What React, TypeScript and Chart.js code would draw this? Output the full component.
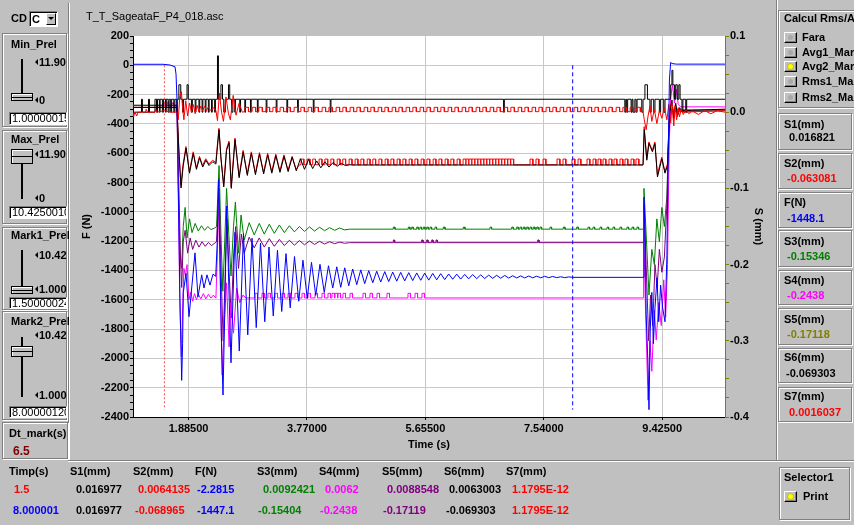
import React, { useEffect, useRef } from 'react';
import { Chart, registerables } from 'chart.js';

Chart.register(...registerables);

type Pt = [number, number];

const FONT = '"Liberation Sans", Arial, sans-serif';

// ---- axis ranges and ticks ----
const timeMin = 1.0000001;
const timeMax = 10.425001;
const forceMin = -2400;
const forceMax = 200;
const dispMin = -0.4;
const dispMax = 0.1;

const timeTicks = [1.885, 3.77, 5.655, 7.54, 9.425];
const timeTickLabels = ['1.88500', '3.77000', '5.65500', '7.54000', '9.42500'];
const forceTicks = [200, 0, -200, -400, -600, -800, -1000, -1200, -1400, -1600, -1800, -2000, -2200, -2400];
const dispTicks = [0.1, 0, -0.1, -0.2, -0.3, -0.4];
const dispTickLabels = ['0.1', '0.0', '-0.1', '-0.2', '-0.3', '-0.4'];

// ---- cursor marks (s) and their vertical extent (N) ----
const markTimes = [1.5, 8.000001];
const markSpan = [0, -2350];

// ---- F (N), force channel ----
const forceTrace: Pt[] = [
  [1.000, 7], [1.478, 7], [1.589, 2], [1.669, -10], [1.685, -60], [1.701, -240], [1.724, -920], [1.748, -1600],
  [1.775, -2150], [1.790, -1900], [1.801, -1550], [1.844, -1420], [1.892, -1715], [1.939, -1500], [1.987, -1280],
  [2.035, -1580], [2.094, -1430], [2.130, -1520], [2.178, -1430], [2.226, -1500], [2.274, -1425], [2.317, -1440],
  [2.342, -1200], [2.361, -780], [2.385, -1300], [2.409, -1900], [2.433, -2250], [2.460, -1700], [2.492, -960],
  [2.525, -1500], [2.560, -2030], [2.624, -1140],
  [2.692, -1950], [2.759, -1150], [2.827, -1840], [2.895, -1180], [2.962, -1790], [3.030, -1213], [3.098, -1750],
  [3.165, -1240], [3.233, -1710], [3.300, -1262], [3.368, -1680], [3.436, -1285], [3.503, -1655], [3.571, -1305],
  [3.639, -1610], [3.706, -1330], [3.774, -1590], [3.842, -1345], [3.909, -1570], [3.977, -1358], [4.045, -1550],
  [4.112, -1368], [4.180, -1520],
  [4.244, -1375], [4.307, -1515], [4.371, -1382], [4.435, -1505], [4.498, -1390], [4.562, -1497], [4.626, -1396],
  [4.689, -1490], [4.753, -1401], [4.817, -1484], [4.880, -1405], [4.944, -1479], [5.008, -1408], [5.071, -1476],
  [5.135, -1411], [5.199, -1473], [5.262, -1413], [5.326, -1471], [5.390, -1415], [5.453, -1469], [5.517, -1417],
  [5.581, -1467], [5.644, -1418], [5.708, -1466], [5.772, -1420], [5.835, -1464], [5.899, -1422], [5.963, -1462],
  [6.026, -1424], [6.090, -1460], [6.154, -1425], [6.217, -1459], [6.281, -1427], [6.345, -1457], [6.408, -1428],
  [6.472, -1456], [6.536, -1430], [6.599, -1455], [6.663, -1432], [6.727, -1454], [6.790, -1433], [6.854, -1453],
  [6.918, -1434], [6.981, -1452], [7.045, -1436], [7.109, -1451], [7.172, -1437], [7.236, -1451], [7.300, -1438],
  [7.363, -1450], [7.427, -1439], [7.491, -1450], [7.554, -1440], [7.618, -1449], [7.682, -1441], [7.745, -1449],
  [7.809, -1443], [7.873, -1449], [7.936, -1444], [8.000, -1447],
  [9.120, -1447], [9.135, -900], [9.150, -1100], [9.170, -1700], [9.195, -2000], [9.215, -2350], [9.235, -1800],
  [9.260, -1550], [9.285, -1900], [9.311, -1650], [9.343, -1450], [9.370, -1750], [9.400, -1500], [9.430, -1650],
  [9.470, -1750], [9.500, -1300], [9.518, -700], [9.540, -100], [9.560, 20], [9.581, 12], [9.650, 8], [10.425, 8],
];

// ---- S1 (mm), two-level digital trace: value holds from each time onward ----
const s1Steps: Pt[] = [
  [1.000, 0.0], [1.135, 0.017], [1.150, 0.0], [1.247, 0.017], [1.262, 0.0], [1.350, 0.017], [1.375, 0.0],
  [1.390, 0.017], [1.420, 0.0], [1.432, 0.017], [1.468, 0.0], [1.485, 0.017], [1.518, 0.0], [1.530, 0.017],
  [1.560, 0.0], [1.575, 0.017], [1.600, 0.0], [1.615, 0.017], [1.650, 0.0], [1.665, 0.017], [1.690, 0.0],
  [1.705, 0.017], [1.730, 0.036], [1.760, 0.017], [1.790, 0.0], [1.805, 0.017], [1.860, 0.036], [1.880, 0.017],
  [1.930, 0.0], [1.945, 0.017], [1.990, 0.0], [2.002, 0.017], [2.050, 0.0], [2.062, 0.017], [2.100, 0.0],
  [2.112, 0.017], [2.150, 0.0], [2.162, 0.017], [2.200, 0.0], [2.212, 0.017], [2.250, 0.0], [2.262, 0.017],
  [2.300, 0.0], [2.312, 0.017], [2.345, 0.074], [2.360, 0.017], [2.400, 0.036], [2.425, 0.017], [2.445, 0.0],
  [2.470, 0.017], [2.520, 0.036], [2.540, 0.017], [2.570, 0.0], [2.590, 0.017], [2.620, 0.0], [2.632, 0.017],
  [2.700, 0.0], [2.712, 0.017], [2.780, 0.0], [2.792, 0.017], [2.870, 0.0], [2.882, 0.017], [2.980, 0.0],
  [2.992, 0.017], [3.120, 0.0], [3.132, 0.017], [3.280, 0.0], [3.292, 0.017], [3.450, 0.0], [3.462, 0.017],
  [3.620, 0.0], [3.632, 0.017], [3.870, 0.0], [3.882, 0.017], [4.140, 0.0], [4.152, 0.017], [6.900, 0.0],
  [6.912, 0.017], [8.830, 0.0], [8.845, 0.017], [8.860, 0.0], [8.875, 0.017], [8.930, 0.0], [8.945, 0.017],
  [8.960, 0.0], [8.990, 0.017], [9.010, 0.0], [9.025, 0.017], [9.100, 0.0], [9.120, 0.017], [9.150, 0.036],
  [9.190, 0.017], [9.230, 0.0], [9.250, 0.017], [9.290, 0.0], [9.310, 0.017], [9.380, 0.0], [9.400, 0.017],
  [9.450, 0.0], [9.470, 0.017], [9.560, 0.036], [9.580, 0.055], [9.595, 0.036], [9.620, 0.017], [9.640, 0.036],
  [9.665, 0.017], [9.690, 0.036], [9.710, 0.017], [9.740, 0.0], [9.755, 0.017], [9.800, 0.0], [9.815, 0.017],
  [10.425, 0.017],
];

// ---- S2 (mm) ----
const s2Trace: Pt[] = [
  [1.000, 0.0064], [1.700, 0.0064], [1.728, -0.045], [1.762, -0.096], [1.798, -0.068], [1.843, -0.045],
  [1.898, -0.078], [1.958, -0.052], [2.008, -0.073], [2.058, -0.058], [2.108, -0.070], [2.158, -0.061],
  [2.208, -0.068], [2.268, -0.063], [2.318, -0.066], [2.343, -0.043], [2.368, -0.021], [2.398, -0.058],
  [2.443, -0.096], [2.488, -0.048], [2.528, -0.038], [2.563, -0.098], [2.623, -0.034], [2.688, -0.084],
  [2.753, -0.050], [2.818, -0.081], [2.883, -0.052], [2.948, -0.080], [3.013, -0.053], [3.078, -0.079],
  [3.143, -0.054], [3.208, -0.078], [3.273, -0.055], [3.338, -0.077], [3.403, -0.056], [3.468, -0.076],
  [3.533, -0.058], [3.598, -0.075], [3.650, -0.0690], [9.120, -0.0690], [9.138, -0.019], [9.178, -0.061],
  [9.213, -0.039], [9.268, -0.050], [9.308, -0.039], [9.348, -0.082], [9.418, -0.059], [9.468, -0.078],
  [9.508, -0.068], [9.543, 0.002], [9.575, 0.014], [9.605, -0.010], [9.635, 0.010], [9.665, -0.006],
  [9.700, 0.004], [9.740, 0.000], [10.425, 0.002],
];
const s2PulseStarts = [
  3.675, 3.772, 3.861, 3.963, 4.055, 4.150, 4.251, 4.340, 4.441, 4.536, 4.628, 4.729, 4.818, 4.915, 5.014,
  5.106, 5.205, 5.297, 5.396, 5.488, 5.587, 5.679, 5.778, 5.870, 5.969, 6.061, 6.160, 6.255, 6.300, 6.348,
  6.395, 6.444, 6.490, 6.540, 6.585, 6.634, 6.680, 6.730, 6.776, 6.825, 6.870, 6.920, 6.966, 7.015, 7.321,
  7.416, 7.528, 7.751, 7.846, 7.989, 8.085, 8.228, 8.324, 8.403, 8.483, 8.578, 8.658, 8.753, 8.833, 8.929, 9.008,
];
const s2Levels = [-0.0690, -0.0615];

// ---- S3 (mm) ----
const s3Trace: Pt[] = [
  [1.000, 0.0092], [1.700, 0.0092], [1.722, -0.100], [1.748, -0.180], [1.775, -0.205], [1.800, -0.150],
  [1.830, -0.125], [1.860, -0.165], [1.900, -0.140], [1.940, -0.158], [1.990, -0.146], [2.040, -0.156],
  [2.090, -0.149], [2.140, -0.155], [2.190, -0.150], [2.240, -0.154], [2.300, -0.152], [2.330, -0.150],
  [2.350, -0.110], [2.370, -0.070], [2.400, -0.160], [2.430, -0.235], [2.460, -0.170], [2.490, -0.100],
  [2.525, -0.160], [2.560, -0.215], [2.600, -0.150], [2.630, -0.118], [2.680, -0.185], [2.720, -0.135],
  [2.770, -0.168], [2.850, -0.145], [2.930, -0.161], [3.010, -0.146], [3.090, -0.160], [3.170, -0.147],
  [3.250, -0.159], [3.330, -0.148], [3.410, -0.158], [3.490, -0.149], [3.570, -0.157], [3.650, -0.150],
  [3.730, -0.1565], [3.810, -0.1505], [3.890, -0.156], [3.970, -0.151], [4.050, -0.1555], [4.130, -0.1515],
  [4.210, -0.155], [4.290, -0.152], [4.370, -0.1545], [4.450, -0.1535], [9.120, -0.1535], [9.135, -0.100],
  [9.170, -0.160], [9.215, -0.240], [9.260, -0.180], [9.300, -0.200], [9.340, -0.140], [9.380, -0.170],
  [9.420, -0.125], [9.460, -0.150], [9.500, -0.110], [9.530, -0.020], [9.555, 0.004], [9.600, 0.001],
  [10.425, 0.002],
];
const s3BlipStarts = [
  5.145, 5.383, 5.437, 5.517, 5.569, 5.622, 5.676, 5.729, 5.808, 5.941, 6.259, 6.684, 7.029, 7.109, 7.161,
  7.214, 7.268, 7.321, 7.374, 7.427, 7.480, 7.639, 7.851, 8.064, 8.244, 8.324, 8.435, 8.547, 8.642, 8.753,
  8.865, 8.945, 9.024,
];
const s3Levels = [-0.1535, -0.1508];

// ---- S4 (mm) ----
const s4Trace: Pt[] = [
  [1.000, 0.0062], [1.480, 0.0062], [1.500, 0.013], [1.520, 0.0062], [1.560, 0.014], [1.590, 0.0062],
  [1.640, 0.013], [1.670, 0.0062], [1.700, 0.0062], [1.720, -0.100], [1.745, -0.250], [1.770, -0.321],
  [1.790, -0.260], [1.810, -0.205], [1.835, -0.215], [1.860, -0.200], [1.890, -0.246], [1.920, -0.236],
  [1.950, -0.248], [1.980, -0.238], [2.010, -0.246], [2.040, -0.239], [2.080, -0.245], [2.120, -0.238],
  [2.160, -0.245], [2.200, -0.239], [2.240, -0.244], [2.280, -0.240], [2.320, -0.244], [2.345, -0.180],
  [2.365, -0.120], [2.395, -0.250], [2.420, -0.345], [2.450, -0.280], [2.490, -0.224], [2.530, -0.308],
  [2.560, -0.250], [2.600, -0.290], [2.650, -0.231], [2.700, -0.250], [2.750, -0.240], [2.800, -0.2438],
  [9.120, -0.2438], [9.130, -0.150], [9.160, -0.260], [9.200, -0.378], [9.230, -0.300], [9.260, -0.340],
  [9.300, -0.260], [9.330, -0.299], [9.370, -0.250], [9.410, -0.280], [9.450, -0.220], [9.480, -0.269],
  [9.510, -0.200], [9.535, -0.050], [9.560, 0.020], [9.590, 0.036], [9.620, 0.012], [9.650, 0.030],
  [9.680, 0.010], [9.720, 0.007], [10.425, 0.007],
];
const s4PulseStarts = [
  2.942, 3.054, 3.149, 3.261, 3.372, 3.468, 3.579, 3.691, 3.786, 3.898, 4.009, 4.105, 4.168, 4.216, 4.264,
  4.343, 4.455, 4.662, 4.773, 4.885, 5.044, 5.378, 5.490, 5.601,
];
const s4Levels = [-0.2438, -0.2377];

// ---- S5 (mm) ----
const s5Trace: Pt[] = [
  [1.000, 0.0089], [1.700, 0.0089], [1.725, -0.080], [1.755, -0.190], [1.775, -0.230], [1.800, -0.170],
  [1.830, -0.155], [1.870, -0.185], [1.910, -0.165], [1.950, -0.180], [2.000, -0.168], [2.050, -0.177],
  [2.100, -0.170], [2.150, -0.176], [2.200, -0.171], [2.250, -0.175], [2.300, -0.172], [2.330, -0.170],
  [2.350, -0.130], [2.370, -0.100], [2.400, -0.200], [2.435, -0.300], [2.465, -0.220], [2.495, -0.140],
  [2.530, -0.210], [2.565, -0.270], [2.600, -0.190], [2.635, -0.150], [2.680, -0.205], [2.725, -0.160],
  [2.770, -0.185], [2.850, -0.164], [2.930, -0.178], [3.010, -0.165], [3.090, -0.177], [3.170, -0.166],
  [3.250, -0.176], [3.330, -0.167], [3.410, -0.175], [3.490, -0.168], [3.570, -0.1745], [3.650, -0.1685],
  [3.730, -0.174], [3.810, -0.169], [3.890, -0.1735], [3.970, -0.1695], [4.050, -0.173], [4.130, -0.170],
  [4.210, -0.1725], [4.290, -0.1705], [4.370, -0.172], [4.450, -0.1712], [9.120, -0.1712], [9.135, -0.120],
  [9.170, -0.200], [9.210, -0.300], [9.240, -0.240], [9.275, -0.280], [9.310, -0.200], [9.345, -0.230],
  [9.380, -0.180], [9.420, -0.210], [9.460, -0.190], [9.500, -0.120], [9.530, -0.030], [9.560, 0.003],
  [10.425, 0.003],
];
const s5BlipStarts = [5.145, 5.596, 5.676, 5.756, 5.824, 7.443];
const s5Levels = [-0.1712, -0.1677];

// ---- S6 (mm) ----
const s6Trace: Pt[] = [
  [1.000, 0.0063], [1.700, 0.0063], [1.730, -0.050], [1.765, -0.0995], [1.800, -0.070], [1.845, -0.047],
  [1.900, -0.080], [1.960, -0.054], [2.010, -0.075], [2.060, -0.060], [2.110, -0.072], [2.160, -0.063],
  [2.210, -0.070], [2.270, -0.065], [2.320, -0.068], [2.345, -0.045], [2.370, -0.023], [2.400, -0.060],
  [2.445, -0.098], [2.490, -0.050], [2.530, -0.040], [2.565, -0.100], [2.625, -0.036], [2.690, -0.086],
  [2.755, -0.052], [2.820, -0.083], [2.885, -0.054], [2.950, -0.082], [3.015, -0.055], [3.080, -0.081],
  [3.145, -0.056], [3.210, -0.080], [3.275, -0.057], [3.340, -0.079], [3.405, -0.058], [3.470, -0.078],
  [3.535, -0.059], [3.600, -0.077], [3.665, -0.061], [3.730, -0.075], [3.795, -0.062], [3.860, -0.074],
  [3.925, -0.064], [3.990, -0.073], [4.055, -0.065], [4.120, -0.072], [4.185, -0.066], [4.250, -0.071],
  [4.315, -0.067], [4.380, -0.070], [4.445, -0.069], [4.500, -0.0693], [9.120, -0.0693], [9.140, -0.023],
  [9.180, -0.063], [9.215, -0.041], [9.270, -0.052], [9.310, -0.041], [9.350, -0.085], [9.420, -0.061],
  [9.470, -0.080], [9.510, -0.070], [9.545, -0.001], [9.580, 0.016], [9.610, -0.008], [9.640, 0.012],
  [9.670, -0.004], [9.700, 0.006], [9.740, 0.002], [10.425, 0.004],
];

// ---- S7 (mm) ----
const s7Trace: Pt[] = [
  [1.000, 0.000], [1.010, -0.006], [1.030, 0.000], [1.060, -0.005], [1.075, 0.000], [1.200, 0.000],
  [1.210, 0.004], [1.230, 0.000], [1.350, 0.000], [1.360, 0.004], [1.380, 0.000], [1.500, 0.002],
  [1.600, 0.000], [1.700, 0.000], [1.720, -0.010], [1.745, 0.020], [1.770, 0.027], [1.790, 0.005],
  [1.810, -0.010], [1.840, 0.015], [1.870, -0.005], [1.900, 0.012], [1.930, 0.000], [1.960, 0.010],
  [1.990, -0.002], [2.020, 0.009], [2.050, 0.001], [2.080, 0.008], [2.110, 0.002], [2.140, 0.008],
  [2.170, 0.002], [2.200, 0.007], [2.240, 0.002], [2.280, 0.006], [2.320, 0.002], [2.345, -0.011],
  [2.375, 0.025], [2.410, 0.000], [2.440, -0.012], [2.480, 0.020], [2.520, -0.002], [2.550, -0.010],
  [2.595, 0.022], [2.640, -0.004], [2.690, 0.012], [2.740, 0.000], [2.775, 0.0007], [9.120, 0.0007],
  [9.140, -0.010], [9.170, -0.023], [9.200, -0.005], [9.230, 0.008], [9.260, -0.012], [9.300, 0.004],
  [9.340, -0.015], [9.380, 0.002], [9.420, -0.008], [9.460, 0.006], [9.500, -0.010], [9.530, 0.010],
  [9.560, -0.014], [9.585, 0.012], [9.610, -0.018], [9.630, 0.008], [9.655, -0.010], [9.680, 0.006],
  [9.700, -0.006], [9.730, 0.004], [9.760, -0.003], [9.800, 0.003], [9.850, -0.002], [9.900, 0.002],
  [10.000, -0.003], [10.100, 0.002], [10.200, -0.002], [10.300, 0.002], [10.425, 0.000],
];
const s7PulseStarts = [
  2.783, 2.897, 3.004, 3.120, 3.227, 3.342, 3.450, 3.565, 3.673, 3.788, 3.896, 4.011, 4.119, 4.234, 4.341,
  4.457, 4.564, 4.680, 4.787, 4.903, 5.010, 5.126, 5.233, 5.348, 5.456, 5.571, 5.679, 5.794, 5.902, 6.017,
  6.125, 6.240, 6.347, 6.463, 6.570, 6.686, 6.793, 6.909, 7.016, 7.132, 7.239, 7.354, 7.462, 7.577, 7.685,
  7.800, 7.908, 8.023, 8.131, 8.246, 8.354, 8.469, 8.576, 8.692, 8.799, 8.915, 9.022,
];
const s7Levels = [0.0007, 0.0064];

// ---- readouts ----
const tableHeads = ['Timp(s)', 'S1(mm)', 'S2(mm)', 'F(N)', 'S3(mm)', 'S4(mm)', 'S5(mm)', 'S6(mm)', 'S7(mm)'];
const markRow1 = ['1.5', '0.016977', '0.0064135', '-2.2815', '0.0092421', '0.0062', '0.0088548', '0.0063003', '1.1795E-12'];
const markRow2 = ['8.000001', '0.016977', '-0.068965', '-1447.1', '-0.15404', '-0.2438', '-0.17119', '-0.069303', '1.1795E-12'];
const avgLabels = ['S1(mm)', 'S2(mm)', 'F(N)', 'S3(mm)', 'S4(mm)', 'S5(mm)', 'S6(mm)', 'S7(mm)'];
const avgValues = ['0.016821', '-0.063081', '-1448.1', '-0.15346', '-0.2438', '-0.17118', '-0.069303', '0.0016037'];
const calcOptions = ['Fara', 'Avg1_Mar', 'Avg2_Mar', 'Rms1_Mar', 'Rms2_Mar'];

const toXY = (pts: Pt[]) => pts.map(([x, y]) => ({ x, y }));

// merge a base trace with rectangular pulses (start times, width, base/high levels)
function withPulses(trace: Pt[], starts: number[], width: number, levels: number[]) {
  const [base, high] = levels;
  const pts: Pt[] = [...trace];
  for (const t of starts) pts.push([t, base], [t, high], [t + width, high], [t + width, base]);
  return pts
    .map((p, i) => ({ p, i }))
    .sort((a, b) => a.p[0] - b.p[0] || a.i - b.i)
    .map(({ p }) => ({ x: p[0], y: p[1] }));
}

const plotBg = {
  id: 'plotBg',
  beforeDraw(chart: any) {
    const { ctx, chartArea: a } = chart;
    ctx.save();
    ctx.fillStyle = '#ffffff';
    ctx.fillRect(a.left, a.top, a.right - a.left, a.bottom - a.top);
    ctx.restore();
  },
};

const tickFont = { family: FONT, size: 11, weight: 'bold' as const };

function Txt({ x, y, children, color = '#000', bold = true, size = 11 }: any) {
  return (
    <div
      style={{
        position: 'absolute', left: x, top: y - 7, height: 14, lineHeight: '14px', fontSize: size,
        fontWeight: bold ? 700 : 400, color, whiteSpace: 'nowrap', fontFamily: FONT,
      }}
    >
      {children}
    </div>
  );
}

function Etched({ x, y, w, h }: any) {
  return (
    <div
      style={{
        position: 'absolute', left: x, top: y, width: w, height: h, boxSizing: 'border-box',
        border: '1px solid #808080', boxShadow: 'inset 1px 1px 0 #fff, 1px 1px 0 #fff',
      }}
    />
  );
}

function Field({ x, y, w, h, text, bold = false }: any) {
  return (
    <div
      style={{
        position: 'absolute', left: x, top: y, width: w, height: h, boxSizing: 'border-box', background: '#fff',
        borderStyle: 'solid', borderWidth: 1, borderColor: '#808080 #fff #fff #808080',
        boxShadow: 'inset 1px 1px 0 #000', overflow: 'hidden', fontSize: 11, fontWeight: bold ? 700 : 400,
        lineHeight: `${h - 2}px`, paddingLeft: 2, fontFamily: FONT, whiteSpace: 'nowrap', color: '#000',
      }}
    >
      {text}
    </div>
  );
}

function Arrow({ x, y, text }: any) {
  return (
    <>
      <div
        style={{
          position: 'absolute', left: x, top: y - 3, width: 0, height: 0,
          borderTop: '3px solid transparent', borderBottom: '3px solid transparent', borderRight: '3px solid #000',
        }}
      />
      <Txt x={x + 4} y={y}>{text}</Txt>
    </>
  );
}

function Slider({ y0, y1, thumbY, thumbH }: any) {
  return (
    <>
      <div style={{ position: 'absolute', left: 21, top: y0, width: 2, height: y1 - y0, background: '#000' }} />
      <div
        style={{
          position: 'absolute', left: 11, top: thumbY, width: 22, height: thumbH, boxSizing: 'border-box',
          border: '1px solid #000', background: '#c0c0c0', boxShadow: 'inset 1px 1px 0 #fff',
        }}
      >
        <div style={{ position: 'absolute', left: 0, right: 0, top: Math.floor(thumbH / 2) - 1, height: 1, background: '#000' }} />
      </div>
    </>
  );
}

function SquareRadio({ x, y, on }: any) {
  return (
    <div
      style={{
        position: 'absolute', left: x, top: y, width: 13, height: 11, boxSizing: 'border-box', background: '#c0c0c0',
        borderStyle: 'solid', borderWidth: 1, borderColor: '#fff #000 #000 #fff', boxShadow: 'inset -1px -1px 0 #808080',
      }}
    >
      <div
        style={{
          position: 'absolute', left: 3, top: 2, width: 5, height: 5, borderRadius: 3,
          background: on ? '#ffff00' : '#a8a8a8', boxShadow: on ? '0 0 0 0.5px #b0b000' : 'none',
        }}
      />
    </div>
  );
}

function PlotCanvas() {
  const ref = useRef<HTMLCanvasElement>(null);

  useEffect(() => {
    const canvas = ref.current;
    if (!canvas) return;

    const line = (label: string, data: any[], color: string, axis: string, extra: any = {}) => ({
      label, data, borderColor: color, backgroundColor: color, borderWidth: 1, pointRadius: 0,
      yAxisID: axis, fill: false, tension: 0, ...extra,
    });

    // first dataset is drawn on top
    const datasets = [
      line('Mark1', markSpan.map((y) => ({ x: markTimes[0], y })), '#ff5050', 'yF', { borderDash: [2, 2] }),
      line('Mark2', markSpan.map((y) => ({ x: markTimes[1], y })), '#0000ff', 'yF', { borderDash: [4, 3] }),
      line('F', toXY(forceTrace), '#0000ff', 'yF'),
      line('S7', withPulses(s7Trace, s7PulseStarts, 0.055, s7Levels), '#ff0000', 'yS'),
      line('S1', toXY(s1Steps), '#000000', 'yS', { stepped: true }),
      line('S6', toXY(s6Trace), '#000000', 'yS'),
      line('S2', withPulses(s2Trace, s2PulseStarts, 0.045, s2Levels), '#ff0000', 'yS'),
      line('S4', withPulses(s4Trace, s4PulseStarts, 0.04, s4Levels), '#ff00ff', 'yS'),
      line('S5', withPulses(s5Trace, s5BlipStarts, 0.02, s5Levels), '#800080', 'yS'),
      line('S3', withPulses(s3Trace, s3BlipStarts, 0.025, s3Levels), '#008000', 'yS'),
    ];

    const chart = new Chart(canvas, {
      type: 'line',
      data: { datasets },
      options: {
        animation: false,
        responsive: false,
        maintainAspectRatio: false,
        devicePixelRatio: 1,
        parsing: false,
        layout: { padding: { left: 70, right: 89, top: 36, bottom: 68 } },
        plugins: { legend: { display: false }, tooltip: { enabled: false }, title: { display: false } },
        elements: { point: { radius: 0 }, line: { borderWidth: 1 } },
        scales: {
          x: {
            type: 'linear',
            position: 'bottom',
            min: timeMin,
            max: timeMax,
            afterBuildTicks: (s: any) => {
              s.ticks = timeTicks.map((value) => ({ value }));
            },
            afterFit: (s: any) => {
              s.height = 40;
            },
            ticks: {
              autoSkip: false, maxRotation: 0, padding: 2, color: '#000', font: tickFont,
              callback: (_v: any, i: number) => timeTickLabels[i],
            },
            grid: { color: '#c8c8c8', tickColor: '#000', tickLength: 3 },
            border: { color: '#000', width: 1 },
            title: {
              display: true, text: 'Time (s)', color: '#000', font: tickFont, padding: { top: 0, bottom: 5.4 },
            },
          },
          yF: {
            type: 'linear',
            position: 'left',
            min: forceMin,
            max: forceMax,
            afterFit: (s: any) => {
              s.width = 63;
            },
            ticks: {
              stepSize: 50, autoSkip: false, padding: 1, color: '#000', font: tickFont,
              callback: (v: any) => (forceTicks.includes(Number(v)) ? String(v) : ''),
            },
            grid: {
              color: (c: any) => {
                const v = c.tick ? c.tick.value : NaN;
                return forceTicks.includes(v) && v !== forceMax ? '#c8c8c8' : 'rgba(0,0,0,0)';
              },
              tickColor: '#000',
              tickLength: 3,
            },
            border: { color: '#000', width: 1 },
            title: { display: true, text: 'F (N)', color: '#000', font: tickFont, padding: { top: 10.4, bottom: 0 } },
          },
          yS: {
            type: 'linear',
            position: 'right',
            min: dispMin,
            max: dispMax,
            afterFit: (s: any) => {
              s.width = 40;
            },
            ticks: {
              stepSize: 0.025, autoSkip: false, padding: 1, color: '#000', font: tickFont,
              callback: (v: any) => {
                const i = dispTicks.findIndex((m) => Math.abs(m - Number(v)) < 1e-6);
                return i >= 0 ? dispTickLabels[i] : '';
              },
            },
            grid: { drawOnChartArea: false, color: '#808000', tickColor: '#808000', tickLength: 4 },
            border: { color: '#808000', width: 1 },
            title: { display: true, text: 'S (mm)', color: '#000', font: tickFont, padding: { top: 0.4, bottom: 0 } },
          },
        },
      } as any,
      plugins: [plotBg],
    });

    return () => chart.destroy();
  }, []);

  return (
    <canvas
      ref={ref}
      width={854}
      height={525}
      style={{ position: 'absolute', left: 0, top: 0, width: 854, height: 525 }}
    />
  );
}

const headX = [9, 70, 133, 195, 257, 319, 382, 444, 506];
const row1X = [14, 76, 138, 197, 263, 325, 387, 449, 512];
const row2X = [13, 76, 135, 197, 258, 320, 383, 446, 512];
const row1Colors = ['#ff0000', '#000', '#ff0000', '#0000ff', '#008000', '#ff00ff', '#800080', '#000', '#ff0000'];
const row2Colors = ['#0000ff', '#000', '#ff0000', '#0000ff', '#008000', '#ff00ff', '#800080', '#000', '#ff0000'];

const avgBoxes = [
  { y: 113, h: 37, ly: 124, vy: 137, vx: 789, color: '#000' },
  { y: 153, h: 36, ly: 163, vy: 178, vx: 787, color: '#ff0000' },
  { y: 192, h: 36, ly: 202, vy: 218, vx: 787, color: '#0000ff' },
  { y: 230, h: 37, ly: 241, vy: 256, vx: 787, color: '#008000' },
  { y: 270, h: 35, ly: 280, vy: 295, vx: 787, color: '#ff00ff' },
  { y: 308, h: 37, ly: 319, vy: 334, vx: 787, color: '#808000' },
  { y: 348, h: 35, ly: 357, vy: 373, vx: 786, color: '#000' },
  { y: 387, h: 35, ly: 396, vy: 412, vx: 789, color: '#ff0000' },
];
const radioRowsY = [37, 52, 66, 81, 97];

export default function App() {
  return (
    <div
      style={{
        position: 'absolute', left: 0, top: 0, width: 854, height: 525, background: '#c0c0c0',
        overflow: 'hidden', fontFamily: FONT,
      }}
    >
      <PlotCanvas />

      {/* panel separators */}
      <div style={{ position: 'absolute', left: 68, top: 3, width: 1, height: 457, background: '#808080' }} />
      <div style={{ position: 'absolute', left: 69, top: 3, width: 1, height: 457, background: '#fff' }} />
      <div style={{ position: 'absolute', left: 776, top: 0, width: 1, height: 461, background: '#808080' }} />
      <div style={{ position: 'absolute', left: 777, top: 0, width: 1, height: 461, background: '#fff' }} />
      <div style={{ position: 'absolute', left: 68, top: 460, width: 786, height: 1, background: '#808080' }} />
      <div style={{ position: 'absolute', left: 68, top: 461, width: 786, height: 1, background: '#fff' }} />

      <Txt x={86} y={16} bold={false}>T_T_SageataF_P4_018.asc</Txt>

      {/* channel selector */}
      <Txt x={11} y={18}>CD</Txt>
      <Field x={29} y={11} w={29} h={16} text="C" bold />
      <div
        style={{
          position: 'absolute', left: 46, top: 13, width: 10, height: 12, boxSizing: 'border-box', background: '#c0c0c0',
          borderStyle: 'solid', borderWidth: 1, borderColor: '#fff #000 #000 #fff',
        }}
      >
        <div
          style={{
            position: 'absolute', left: 1, top: 3, width: 0, height: 0, borderLeft: '3px solid transparent',
            borderRight: '3px solid transparent', borderTop: '3px solid #000',
          }}
        />
      </div>

      {/* Min_Prel */}
      <Etched x={2} y={33} w={65} h={94} />
      <Txt x={11} y={44}>Min_Prel</Txt>
      <Slider y0={59} y1={93} thumbY={93} thumbH={8} />
      <Arrow x={35} y={62} text="11.90" />
      <Arrow x={35} y={100} text="0" />
      <Field x={9} y={112} w={58} h={13} text="1.00000015" />

      {/* Max_Prel */}
      <Etched x={2} y={130} w={65} h={94} />
      <Txt x={11} y={139}>Max_Prel</Txt>
      <Slider y0={163} y1={199} thumbY={149} thumbH={15} />
      <Arrow x={35} y={154} text="11.90" />
      <Arrow x={35} y={198} text="0" />
      <Field x={9} y={206} w={58} h={13} text="10.4250010" />

      {/* Mark1_Prel */}
      <Etched x={2} y={227} w={65} h={83} />
      <Txt x={11} y={235}>Mark1_Prel</Txt>
      <Slider y0={250} y1={287} thumbY={286} thumbH={8} />
      <Arrow x={35} y={255} text="10.42" />
      <Arrow x={35} y={289} text="1.000" />
      <Field x={9} y={297} w={58} h={12} text="1.50000024" />

      {/* Mark2_Prel */}
      <Etched x={2} y={311} w={65} h={109} />
      <Txt x={11} y={321}>Mark2_Prel</Txt>
      <Slider y0={337} y1={397} thumbY={346} thumbH={11} />
      <Arrow x={35} y={335} text="10.42" />
      <Arrow x={35} y={395} text="1.000" />
      <Field x={9} y={406} w={58} h={12} text="8.00000120" />

      {/* Dt_mark */}
      <Etched x={2} y={422} w={66} h={37} />
      <Txt x={9} y={433}>Dt_mark(s)</Txt>
      <Txt x={13} y={451} color="#800000" size={12}>6.5</Txt>

      {/* averaging mode */}
      <Etched x={778} y={10} w={90} h={98} />
      <Txt x={784} y={18}>Calcul Rms/Av</Txt>
      {calcOptions.map((label, i) => (
        <React.Fragment key={label}>
          <SquareRadio x={784} y={radioRowsY[i] - 5} on={i === 2} />
          <Txt x={802} y={radioRowsY[i]}>{label}</Txt>
        </React.Fragment>
      ))}

      {/* averaged channel readouts */}
      {avgBoxes.map((b, i) => (
        <React.Fragment key={avgLabels[i]}>
          <Etched x={778} y={b.y} w={74} h={b.h} />
          <Txt x={784} y={b.ly}>{avgLabels[i]}</Txt>
          <Txt x={b.vx} y={b.vy} color={b.color}>{avgValues[i]}</Txt>
        </React.Fragment>
      ))}

      {/* cursor table */}
      {tableHeads.map((h, i) => (
        <Txt key={'h' + h} x={headX[i]} y={471}>{h}</Txt>
      ))}
      {markRow1.map((v, i) => (
        <Txt key={'r1' + i} x={row1X[i]} y={489} color={row1Colors[i]}>{v}</Txt>
      ))}
      {markRow2.map((v, i) => (
        <Txt key={'r2' + i} x={row2X[i]} y={510} color={row2Colors[i]}>{v}</Txt>
      ))}

      {/* print selector */}
      <Etched x={779} y={467} w={71} h={53} />
      <Txt x={784} y={477}>Selector1</Txt>
      <SquareRadio x={784} y={491} on />
      <Txt x={803} y={496}>Print</Txt>
    </div>
  );
}
